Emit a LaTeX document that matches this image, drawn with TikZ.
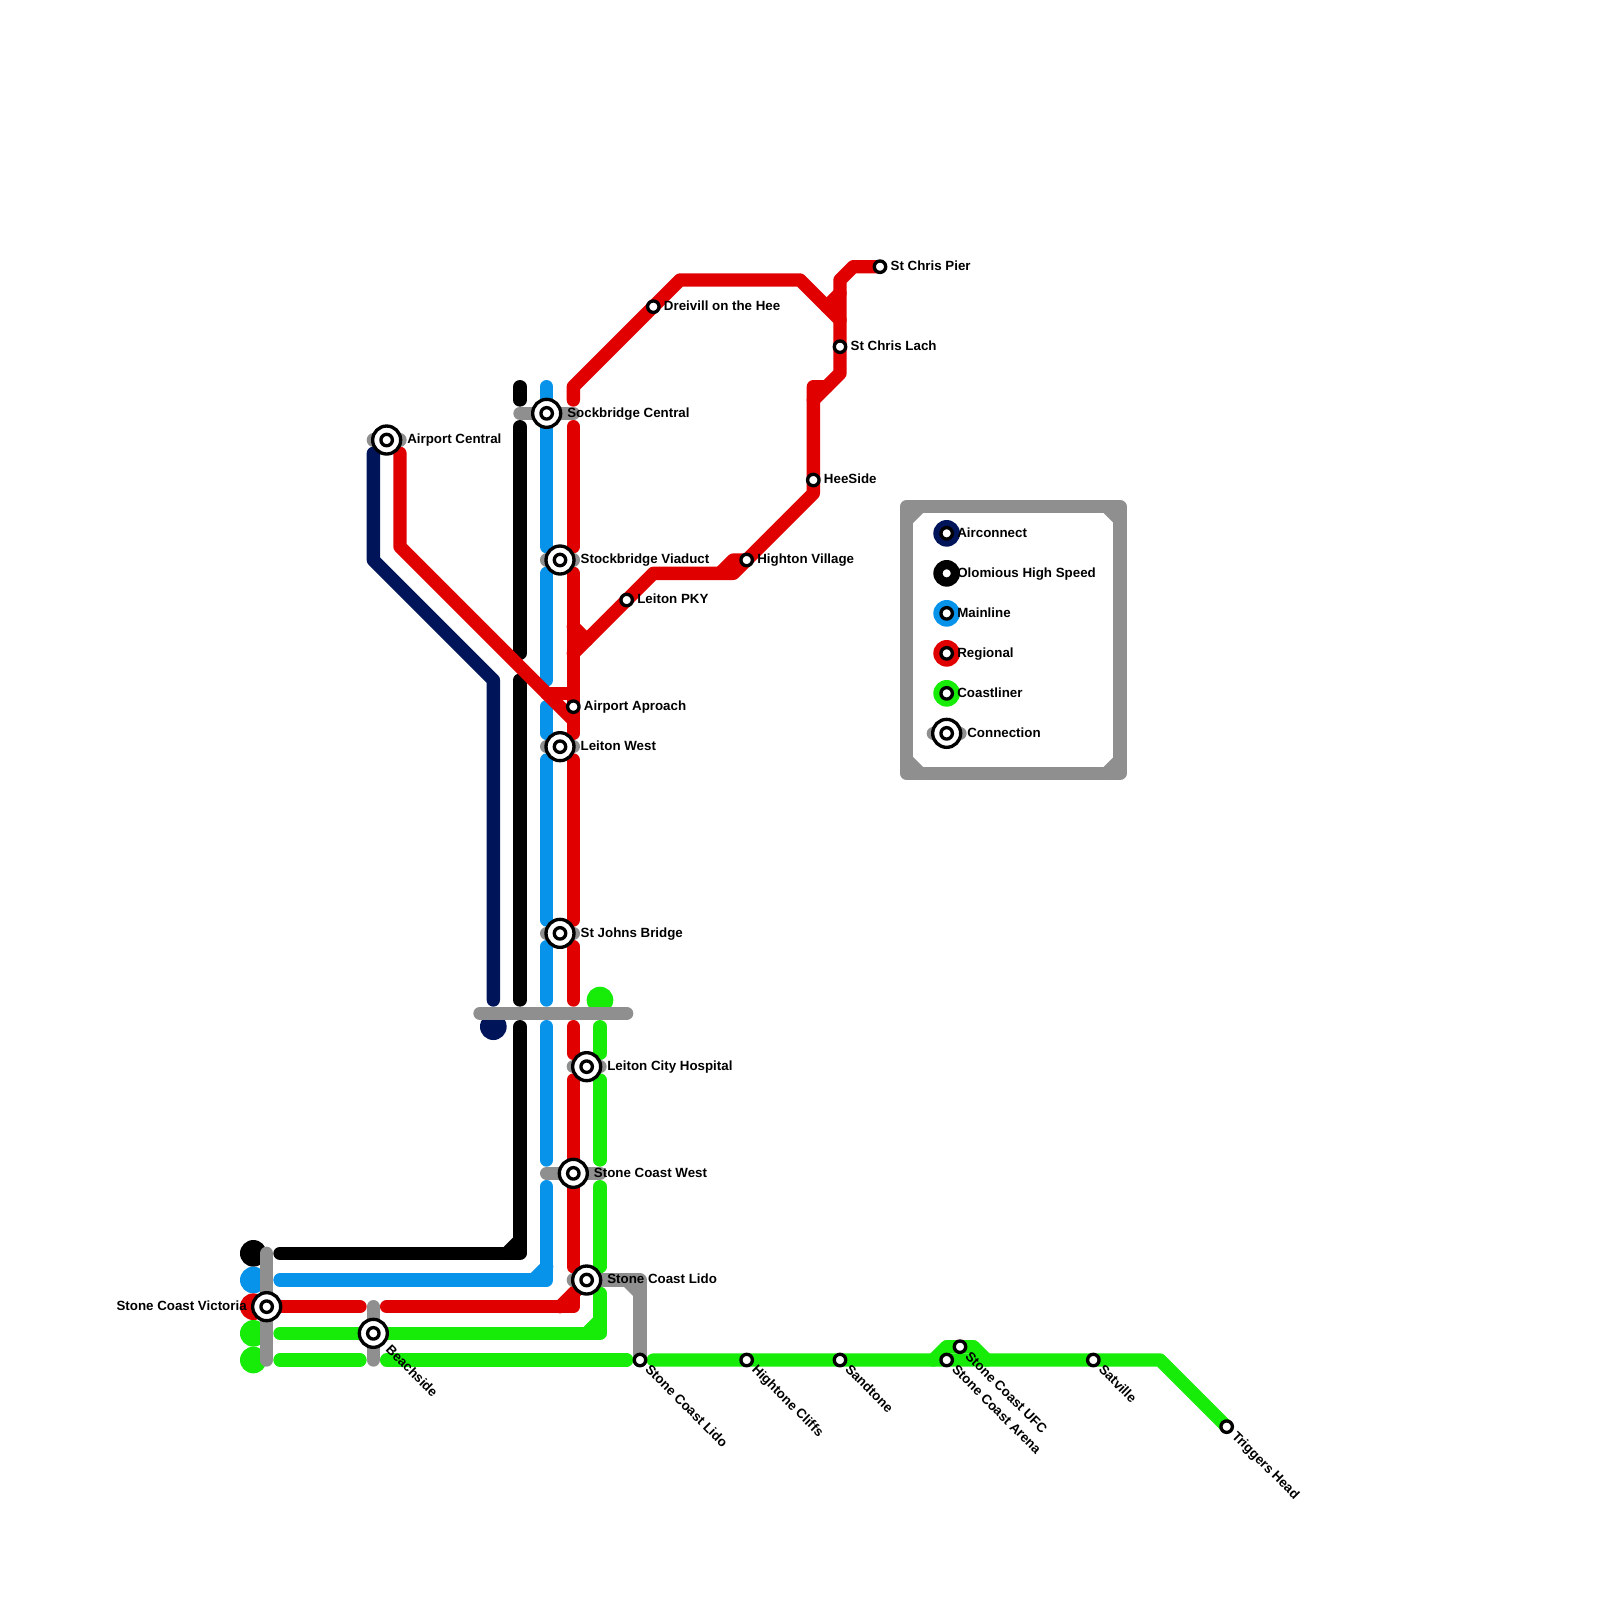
\documentclass[tikz,border=0pt]{standalone}
\usepackage{fontspec}
\setmainfont{Liberation Sans}
\usetikzlibrary{calc}
\definecolor{airblue}{RGB}{0,20,90}
\definecolor{mainblue}{RGB}{8,147,235}
\definecolor{regred}{RGB}{224,0,0}
\definecolor{coastgreen}{RGB}{22,236,8}
\definecolor{linkgrey}{RGB}{143,143,143}
\tikzset{
  route/.style={
    line width=1mm,
    line cap=round,
    line join=round
  },
  stn/.style={
    circle,
    line width=0.25mm,
    fill=white,
    draw=black,
    minimum size=0.86mm,
    inner sep=0pt,
    outer sep=0pt
  },
  xchg/.style={
    circle,
    line width=0.25mm,
    fill=white,
    draw=black,
    minimum size=2.1mm,
    inner sep=0pt,
    outer sep=0pt
  },
  endblob/.style={circle, minimum size=2mm, inner sep=0pt, outer sep=0pt},
  lbl/.style={
    anchor=base west,
    inner sep=0pt,
    outer sep=0pt,
    font=\fontsize{2.845pt}{3.4pt}\selectfont\bfseries
  },
  lbldiag/.style={lbl, rotate=-45}
}
\begin{document}
\begin{tikzpicture}[x=1mm, y=-1mm, route]
  \useasboundingbox (0,0) rectangle (120,120);
  % end blobs
  \foreach \x/\y/\c in {19/94/black,19/96/mainblue,19/98/regred,19/100/coastgreen,19/102/coastgreen,37/77/airblue,45/75/coastgreen} {
    \node[endblob, fill=\c] (blob-\x-\y) at (\x,\y) {};
  }
  % airconnect
  \draw[airblue] (28,34) -- (28,42) -- (37,51) -- (37,75);
  % high speed
  \draw[black] (39,29) -- (39,30);
  \draw[black] (39,32) -- (39,49);
  \draw[black] (39,51) -- (39,75);
  \draw[black] (39,77) -- (39,94) -- (21,94);
  \draw[black] (38,94) -- (39,93);
  % mainline
  \foreach \a/\b in {29/41,43/51,53/55,57/69,71/75,77/87} {
    \draw[mainblue] (41,\a) -- (41,\b);
  }
  \draw[mainblue] (41,89) -- (41,96) -- (21,96);
  \draw[mainblue] (40,96) -- (41,95);
  % coastliner
  \foreach \a/\b in {77/79,81/87,89/95} {
    \draw[coastgreen] (45,\a) -- (45,\b);
  }
  \draw[coastgreen] (21,100) -- (45,100) -- (45,97);
  \draw[coastgreen] (44,100) -- (45,99);
  \draw[coastgreen] (21,102) -- (27,102);
  \draw[coastgreen] (29,102) -- (47,102);
  \draw[coastgreen] (49,102) -- (87,102) -- (92,107);
  \draw[coastgreen] (70,102) -- (71,101) -- (73,101) -- (74,102);
  % regional
  \draw[regred] (30,34) -- (30,41) -- (43,54);
  \draw[regred] (41,52) -- (43,52);
  \draw[regred] (43,30) -- (43,29) -- (51,21) -- (60,21) -- (63,24);
  \draw[regred] (62,23) -- (63,22);
  \draw[regred] (66,20) -- (64,20) -- (63,21) -- (63,28) -- (61,30);
  \draw[regred] (62,29) -- (61,29) -- (61,37) -- (55,43) -- (49,43) -- (43,49);
  \draw[regred] (54,43) -- (55,42) -- (56,42);
  \draw[regred] (43,47) -- (44,48);
  \foreach \a/\b in {32/41,43/55,57/69,71/75,77/79,81/95} {
    \draw[regred] (43,\a) -- (43,\b);
  }
  \draw[regred] (21,98) -- (27,98);
  \draw[regred] (29,98) -- (43,98) -- (43,97);
  \draw[regred] (42,98) -- (44,96);
  % connections
  \draw[linkgrey] (20,94) -- (20,102);
  \draw[linkgrey] (28,98) -- (28,102);
  \draw[linkgrey] (36,76) -- (47,76);
  \draw[linkgrey] (28,33) -- (30,33);
  \draw[linkgrey] (39,31) -- (43,31);
  \foreach \y in {42,56,70} {
    \draw[linkgrey] (41,\y) -- (43,\y);
  }
  \draw[linkgrey] (43,80) -- (45,80);
  \draw[linkgrey] (41,88) -- (45,88);
  \draw[linkgrey] (43,96) -- (48,96) -- (48,102);
  \draw[linkgrey] (47,96) -- (48,97);
  % key frame
  \draw[linkgrey] (68,38) rectangle (84,58);
  \foreach \a/\b/\c/\d in {68/39/69/38,83/38/84/39,68/57/69/58,83/58/84/57} {
    \draw[linkgrey] (\a,\b) -- (\c,\d);
  }
  \draw[linkgrey] (70,55) -- (72,55);
  \foreach \y/\c in {40/airblue,43/black,46/mainblue,49/regred,52/coastgreen} {
    \node[endblob, fill=\c] (key-blob-\y) at (71,\y) {};
  }
  % plain stops
  \foreach \x/\y/\n/\t in {66/20/pier/St Chris Pier,63/26/lach/St Chris Lach,49/23/dreivill/Dreivill on the Hee,
      61/36/heeside/HeeSide,56/42/hightonv/Highton Village,47/45/pky/Leiton PKY,43/53/aproach/Airport Aproach,
      71/40/key-a/Airconnect,71/43/key-b/Olomious High Speed,71/46/key-c/Mainline,71/49/key-d/Regional,71/52/key-e/Coastliner} {
    \node[stn] (\n) at (\x,\y) {};
    \node[lbl] (\n-text) at (\x+.8,\y+.28) {\t};
  }
  % stops with slanted names
  \foreach \x/\y/\n/\t in {48/102/lido-b/Stone Coast Lido,56/102/cliffs/Hightone Cliffs,63/102/sandtone/Sandtone,
      71/102/arena/Stone Coast Arena,72/101/ufc/Stone Coast UFC,82/102/satville/Satville,92/107/triggers/Triggers Head} {
    \node[stn] (\n) at (\x,\y) {};
    \node[lbldiag] (\n-text) at (\x+.35,\y+.78) {\t};
  }
  % interchanges
  \foreach \x/\y/\n/\t in {29/33/aircentral/Airport Central,41/31/sockbridge/Sockbridge Central,42/42/viaduct/Stockbridge Viaduct,
      42/56/leitonw/Leiton West,42/70/johns/St Johns Bridge,44/80/hospital/Leiton City Hospital,43/88/scwest/Stone Coast West,
      44/96/lido-a/Stone Coast Lido,71/55/key-f/Connection} {
    \node[xchg] (\n) at (\x,\y) {};
    \node[stn] (\n-in) at (\x,\y) {};
    \node[lbl] (\n-text) at (\x+1.55,\y+.28) {\t};
  }
  \node[xchg] (victoria) at (20,98) {};
  \node[stn] (victoria-in) at (20,98) {};
  \node[lbl, anchor=base east] (victoria-text) at (18.5,98.28) {Stone Coast Victoria};
  \node[xchg] (beachside) at (28,100) {};
  \node[stn] (beachside-in) at (28,100) {};
  \node[lbldiag] (beachside-text) at (28.88,101.3) {Beachside};
\end{tikzpicture}
\end{document}
